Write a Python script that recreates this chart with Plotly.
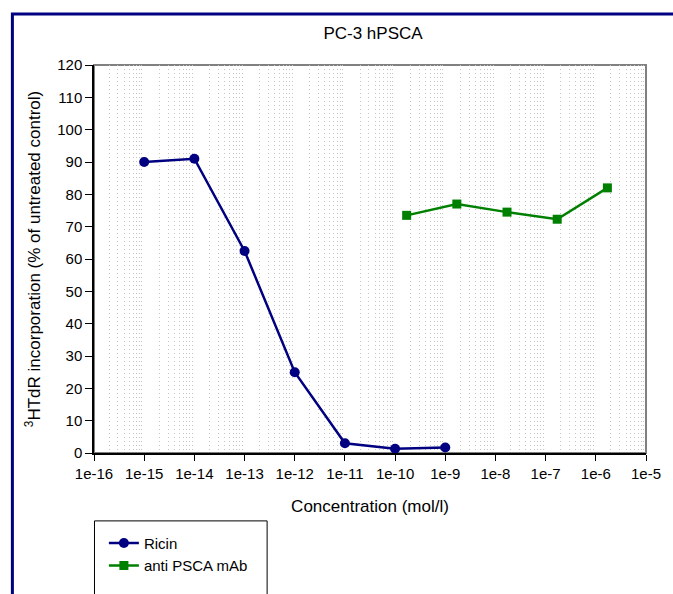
import plotly.graph_objects as go

# ---- data ----
ricin_conc = [1e-15, 1e-14, 1e-13, 1e-12, 1e-11, 1e-10, 1e-9]
ricin_vals = [90.0, 91.0, 62.5, 25.0, 3.0, 1.3, 1.7]

mab_conc = [1.7e-10, 1.7e-9, 1.7e-8, 1.7e-7, 1.7e-6]
mab_vals = [73.5, 77.0, 74.5, 72.3, 82.0]

x_exponents = list(range(-16, -4))
x_ticktext = [f"1e{e}" for e in x_exponents]
y_ticks = list(range(0, 121, 10))

W, H = 673, 594
L, R, T, B = 94, 21, 65, 129
pw, ph = W - L - R, H - T - B

def px_x(p):
    return (p - L) / pw

def px_y(p):
    return (H - B - p) / ph

FONT = "Liberation Sans, Arial, sans-serif"

fig = go.Figure()
fig.add_trace(go.Scatter(
    x=ricin_conc, y=ricin_vals, name="Ricin", mode="lines+markers",
    line=dict(color="#000080", width=2.5),
    marker=dict(symbol="circle", size=10, color="#000080"),
))
fig.add_trace(go.Scatter(
    x=mab_conc, y=mab_vals, name="anti PSCA mAb", mode="lines+markers",
    line=dict(color="#008000", width=2.5),
    marker=dict(symbol="square", size=9, color="#008000"),
))

minor_vals = [m * 10.0 ** e for e in range(-16, -5) for m in range(2, 10)]

fig.update_layout(
    width=W, height=H,
    margin=dict(l=L, r=R, t=T, b=B),
    paper_bgcolor="white", plot_bgcolor="white",
    font=dict(family=FONT, size=15, color="black"),
    title=dict(text="PC-3 hPSCA", x=(L + pw / 2) / W, xanchor="center",
               y=1 - 33 / H, yanchor="middle", font=dict(size=17)),
    showlegend=True,
    legend=dict(x=px_x(104), y=px_y(541), xanchor="left", yanchor="top",
                bgcolor="rgba(0,0,0,0)", borderwidth=0,
                font=dict(size=15), tracegroupgap=0),
    xaxis=dict(
        type="log", range=[-16, -5],
        tickmode="array",
        tickvals=[10.0 ** e for e in x_exponents], ticktext=x_ticktext,
        ticks="outside", ticklen=6, tickwidth=1, tickcolor="black",
        showline=True, linecolor="black", linewidth=1.5,
        showgrid=False, zeroline=False,
        minor=dict(tickmode="array", tickvals=minor_vals, showgrid=True,
                   gridcolor="#c4c4c4", griddash="1px,3px", gridwidth=1, ticks=""),
        title=dict(text="Concentration (mol/l)", font=dict(size=17), standoff=19),
        tickfont=dict(size=15),
    ),
    yaxis=dict(
        range=[0, 120], tickmode="array", tickvals=y_ticks,
        ticks="outside", ticklen=7, tickwidth=1, tickcolor="black",
        showline=True, linecolor="black", linewidth=1.5,
        showgrid=False, zeroline=False,
        title=dict(text="<sup>3</sup>HTdR incorporation (% of untreated control)",
                   font=dict(size=17), standoff=12),
        tickfont=dict(size=15),
    ),
    shapes=[
        # plot area border (gray)
        dict(type="rect", xref="paper", yref="paper", x0=0, x1=1, y0=0, y1=1,
             line=dict(color="#808080", width=2), layer="below"),
        # outer navy frame
        dict(type="rect", xref="paper", yref="paper",
             x0=px_x(11.5), x1=px_x(690), y0=px_y(620), y1=px_y(12.5),
             line=dict(color="#000080", width=3)),
        # legend box
        dict(type="rect", xref="paper", yref="paper",
             x0=px_x(94.5), x1=px_x(269), y0=px_y(620), y1=px_y(535),
             line=dict(color="black", width=1)),
    ],
)

fig.write_html("out.html")
